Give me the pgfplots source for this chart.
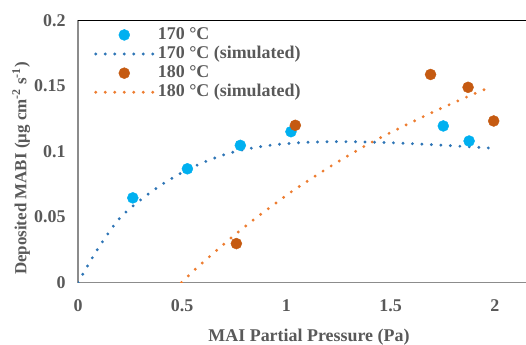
\documentclass[border=0pt]{standalone}
\usepackage{fontspec}
\setmainfont{Liberation Serif}
\usepackage{pgfplots}
\pgfplotsset{compat=1.18}
\definecolor{txtgray}{HTML}{595959}
\definecolor{axgray}{HTML}{8C8C8C}
\definecolor{ptblue}{HTML}{00B0F0}
\definecolor{simblue}{HTML}{2E75B6}
\definecolor{ptorange}{HTML}{C55A11}
\definecolor{simorange}{HTML}{ED7D31}
\pgfplotsset{
  legmark/.style={legend image code/.code={\draw[##1] plot coordinates {(28.5bp,0bp)};}},
  legline/.style={legend image code/.code={\draw[##1] (0bp,0bp) -- (58bp,0bp);}},
}
\begin{document}
\begin{tikzpicture}
\path[use as bounding box] (0,0) rectangle (526bp,345bp);
\begin{axis}[
  at={(78bp,62.5bp)}, anchor=south west,
  scale only axis, width=448bp, height=262bp,
  xmin=0, xmax=2.15, ymin=0, ymax=0.2,
  axis x line*=bottom, axis y line*=left,
  axis line style={axgray, line width=1.5bp},
  xtick={0,0.5,1,1.5,2}, xticklabels={0,0.5,1,1.5,2},
  ytick={0,0.05,0.1,0.15,0.2}, yticklabels={0,0.05,0.1,0.15,0.2},
  major tick length=0pt,
  tick label style={font=\fontsize{18}{21}\selectfont\bfseries, text=txtgray},
  xticklabel style={yshift=-13.5bp},
  yticklabel style={xshift=-9bp},
  xlabel={MAI Partial Pressure (Pa)},
  ylabel={Deposited MABI (μg cm\textsuperscript{-2} s\textsuperscript{-1})},
  xlabel style={at={(axis description cs:0.5156,-0.21)}, anchor=center, font=\fontsize{18}{21}\selectfont\bfseries, text=txtgray},
  ylabel style={at={(axis description cs:-0.127,0.435)}, anchor=center, font=\fontsize{17}{20}\selectfont\bfseries, text=txtgray},
  legend style={at={(axis description cs:0.029,0.9866)}, anchor=north west, draw=none, fill=none,
    font=\fontsize{18}{21}\selectfont\bfseries, text=txtgray, row sep=1.6bp,
    nodes={inner sep=0pt, text height=13bp, text depth=4.5bp}},
  legend cell align=left,
]
\draw[black, line width=1.5bp] (rel axis cs:0,1) -- (rel axis cs:1,1);

\addplot[only marks, mark=*, mark size=5.5bp, mark options={draw=ptblue, fill=ptblue}, legmark]
  coordinates {(0.263,0.0646) (0.525,0.0868) (0.779,0.1047) (1.022,0.1151) (1.753,0.1195) (1.877,0.108)};
\addlegendentry{\hspace{2.5bp}170 °C}

\addplot[simblue, smooth, line width=3.2bp, line cap=round, dash pattern=on 0bp off 9.5bp, legline]
  coordinates {(0,0) (0.1,0.027) (0.2,0.049) (0.3,0.063) (0.4,0.0745) (0.5,0.084) (0.6,0.0915)
  (0.7,0.0975) (0.8,0.1015) (0.9,0.1043) (1.0,0.106) (1.1,0.107) (1.2,0.1075) (1.3,0.1075)
  (1.4,0.1072) (1.5,0.1067) (1.6,0.106) (1.7,0.1052) (1.8,0.1043) (1.9,0.1034) (2.0,0.1024)};
\addlegendentry{\hspace{2.5bp}170 °C (simulated)}

\addplot[only marks, mark=*, mark size=5.5bp, mark options={draw=ptorange, fill=ptorange}, legmark]
  coordinates {(0.76,0.0297) (1.043,0.120) (1.692,0.1588) (1.872,0.149) (1.995,0.1233)};
\addlegendentry{\hspace{2.5bp}180 °C}

\addplot[simorange, smooth, line width=3.2bp, line cap=round, dash pattern=on 0bp off 9.5bp, legline]
  coordinates {(0.497,0) (0.567,0.0108) (0.635,0.0203) (0.702,0.0296) (0.771,0.0388) (0.84,0.0476)
  (0.912,0.0562) (1.019,0.0687) (1.131,0.0805) (1.244,0.0918) (1.399,0.1062) (1.558,0.119)
  (1.72,0.1313) (1.883,0.1428) (1.97,0.1485)};
\addlegendentry{\hspace{2.5bp}180 °C (simulated)}
\end{axis}
\end{tikzpicture}
\end{document}
